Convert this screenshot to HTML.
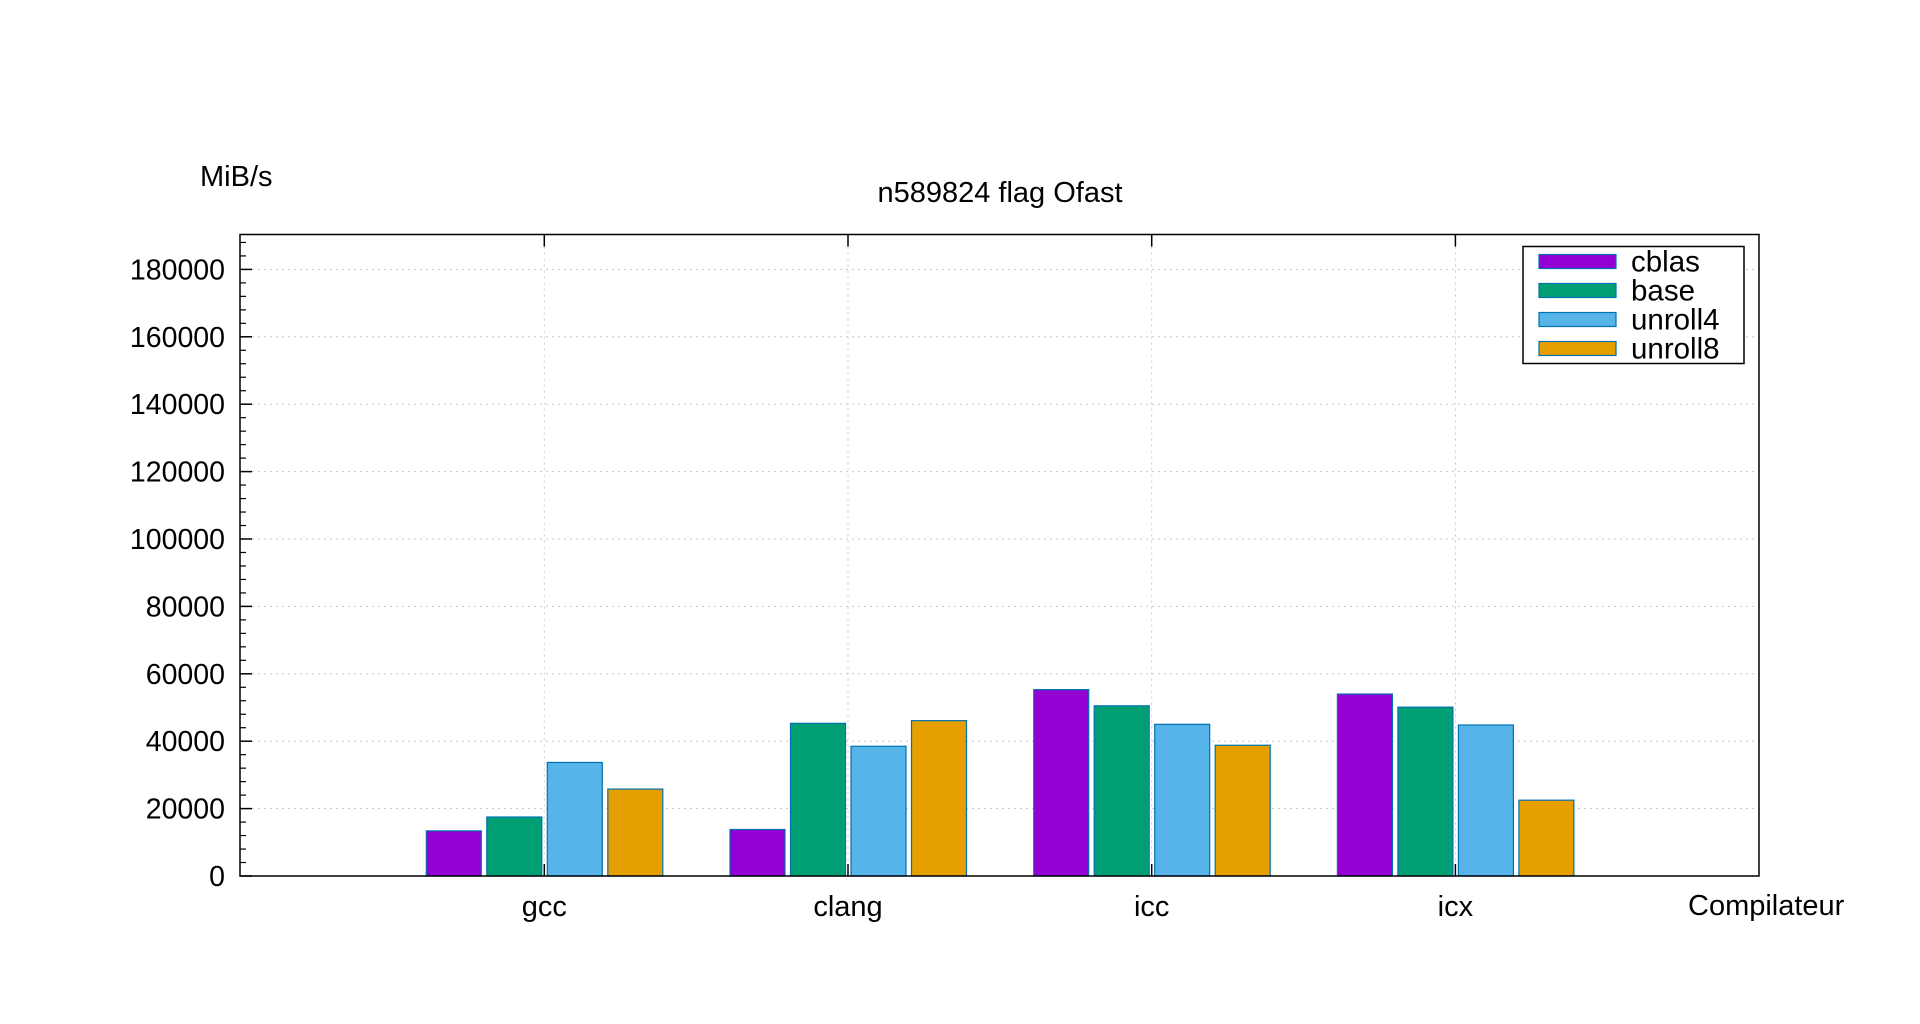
<!DOCTYPE html>
<html><head><meta charset="utf-8"><style>
html,body{margin:0;padding:0;background:#fff;}
svg{display:block;font-family:"Liberation Sans",Arial,sans-serif;}
</style></head><body>
<svg id="chart" width="1920" height="1024" viewBox="0 0 1920 1024" xmlns="http://www.w3.org/2000/svg">
<rect x="0" y="0" width="1920" height="1024" fill="#fff"/>
<g id="grid"></g>
<g id="bars"></g>
<g id="axes"></g>
<text x="1000" y="202" font-size="29" text-anchor="middle">n589824 flag Ofast</text>
<text x="200" y="186" font-size="29">MiB/s</text>
<text x="1688" y="915" font-size="29">Compilateur</text>
<g id="legend">
<rect x="1523" y="246.5" width="221" height="117" fill="#fff" stroke="#000" stroke-width="1.5"/>
</g>
</svg>
<script>
const categories = ["gcc", "clang", "icc", "icx"];
const seriesNames = ["cblas", "base", "unroll4", "unroll8"];
const cblas = [13400, 13800, 55300, 54000];
const base = [17500, 45300, 50500, 50100];
const unroll4 = [33700, 38500, 45000, 44800];
const unroll8 = [25800, 46100, 38800, 22500];
const yTicks = [0, 20000, 40000, 60000, 80000, 100000, 120000, 140000, 160000, 180000];
const colors = ["#9400d3", "#009e73", "#56b4e9", "#e69f00"];

const NS = "http://www.w3.org/2000/svg";
const L = 240, R = 1759, T = 234.5, B = 876;
const PXPER = 67.4 / 20000;
function yScale(v) { return B - v * PXPER; }
function xScale(i) { return 544.3 + i * 303.7; }
function mk(tag, attrs, parent) {
  const e = document.createElementNS(NS, tag);
  for (const k in attrs) e.setAttribute(k, attrs[k]);
  parent.appendChild(e);
  return e;
}
const grid = document.getElementById("grid");
const bars = document.getElementById("bars");
const axes = document.getElementById("axes");
const legend = document.getElementById("legend");

yTicks.forEach(v => {
  const y = yScale(v);
  if (v > 0) {
    const g = mk("line", {x1: L, x2: R, y1: y, y2: y, stroke: "#c8c8c8", "stroke-width": 1, "stroke-dasharray": "2,4"}, grid);
    
    
  }
  const t = mk("line", {x1: L, x2: L + 12, y1: y, y2: y, stroke: "#000", "stroke-width": 1.5}, axes);
  
  
  const lb = mk("text", {x: 225, y: y + 10, "font-size": 28.5, "text-anchor": "end"}, axes);
  lb.textContent = String(v);
  
  
});
for (let v = 4000; v < 190000; v += 4000) {
  if (v % 20000 === 0) continue;
  const y = yScale(v);
  if (y < T) break;
  const m = mk("line", {x1: L, x2: L + 6, y1: y, y2: y, stroke: "#000", "stroke-width": 1.2}, axes);
  
  
}
categories.forEach((c, i) => {
  const x = xScale(i);
  const g = mk("line", {x1: x, x2: x, y1: T, y2: B, stroke: "#c8c8c8", "stroke-width": 1, "stroke-dasharray": "2,4"}, grid);
  
  
  const t1 = mk("line", {x1: x, x2: x, y1: T, y2: T + 12, stroke: "#000", "stroke-width": 1.5}, axes);
  
  
  const t2 = mk("line", {x1: x, x2: x, y1: B, y2: B - 12, stroke: "#000", "stroke-width": 1.5}, axes);
  
  
  const lb = mk("text", {x: x, y: 916, "font-size": 29, "text-anchor": "middle"}, axes);
  lb.textContent = c;
  
  
});
const allSeries = [cblas, base, unroll4, unroll8];
const offsets = [-118, -57.5, 3, 63.5];
const BW = 55;
allSeries.forEach((s, si) => {
  s.forEach((v, i) => {
    const x = xScale(i) + offsets[si];
    const y = yScale(v);
    const r = mk("rect", {x: x, y: y, width: BW, height: B - y, fill: colors[si], stroke: "#0072b2", "stroke-width": 1.2}, bars);
    
    
  });
});
const fr = mk("rect", {x: L, y: T, width: R - L, height: B - T, fill: "none", stroke: "#000", "stroke-width": 1.5}, axes);


seriesNames.forEach((n, i) => {
  const y = 254.5 + i * 29;
  const sw = mk("rect", {x: 1539, y: y, width: 77, height: 14, fill: colors[i], stroke: "#0072b2", "stroke-width": 1.2}, legend);
  
  
  const t = mk("text", {x: 1631, y: y + 17, "font-size": 29.5}, legend);
  t.textContent = n;
  
  
});
</script>
</body></html>
